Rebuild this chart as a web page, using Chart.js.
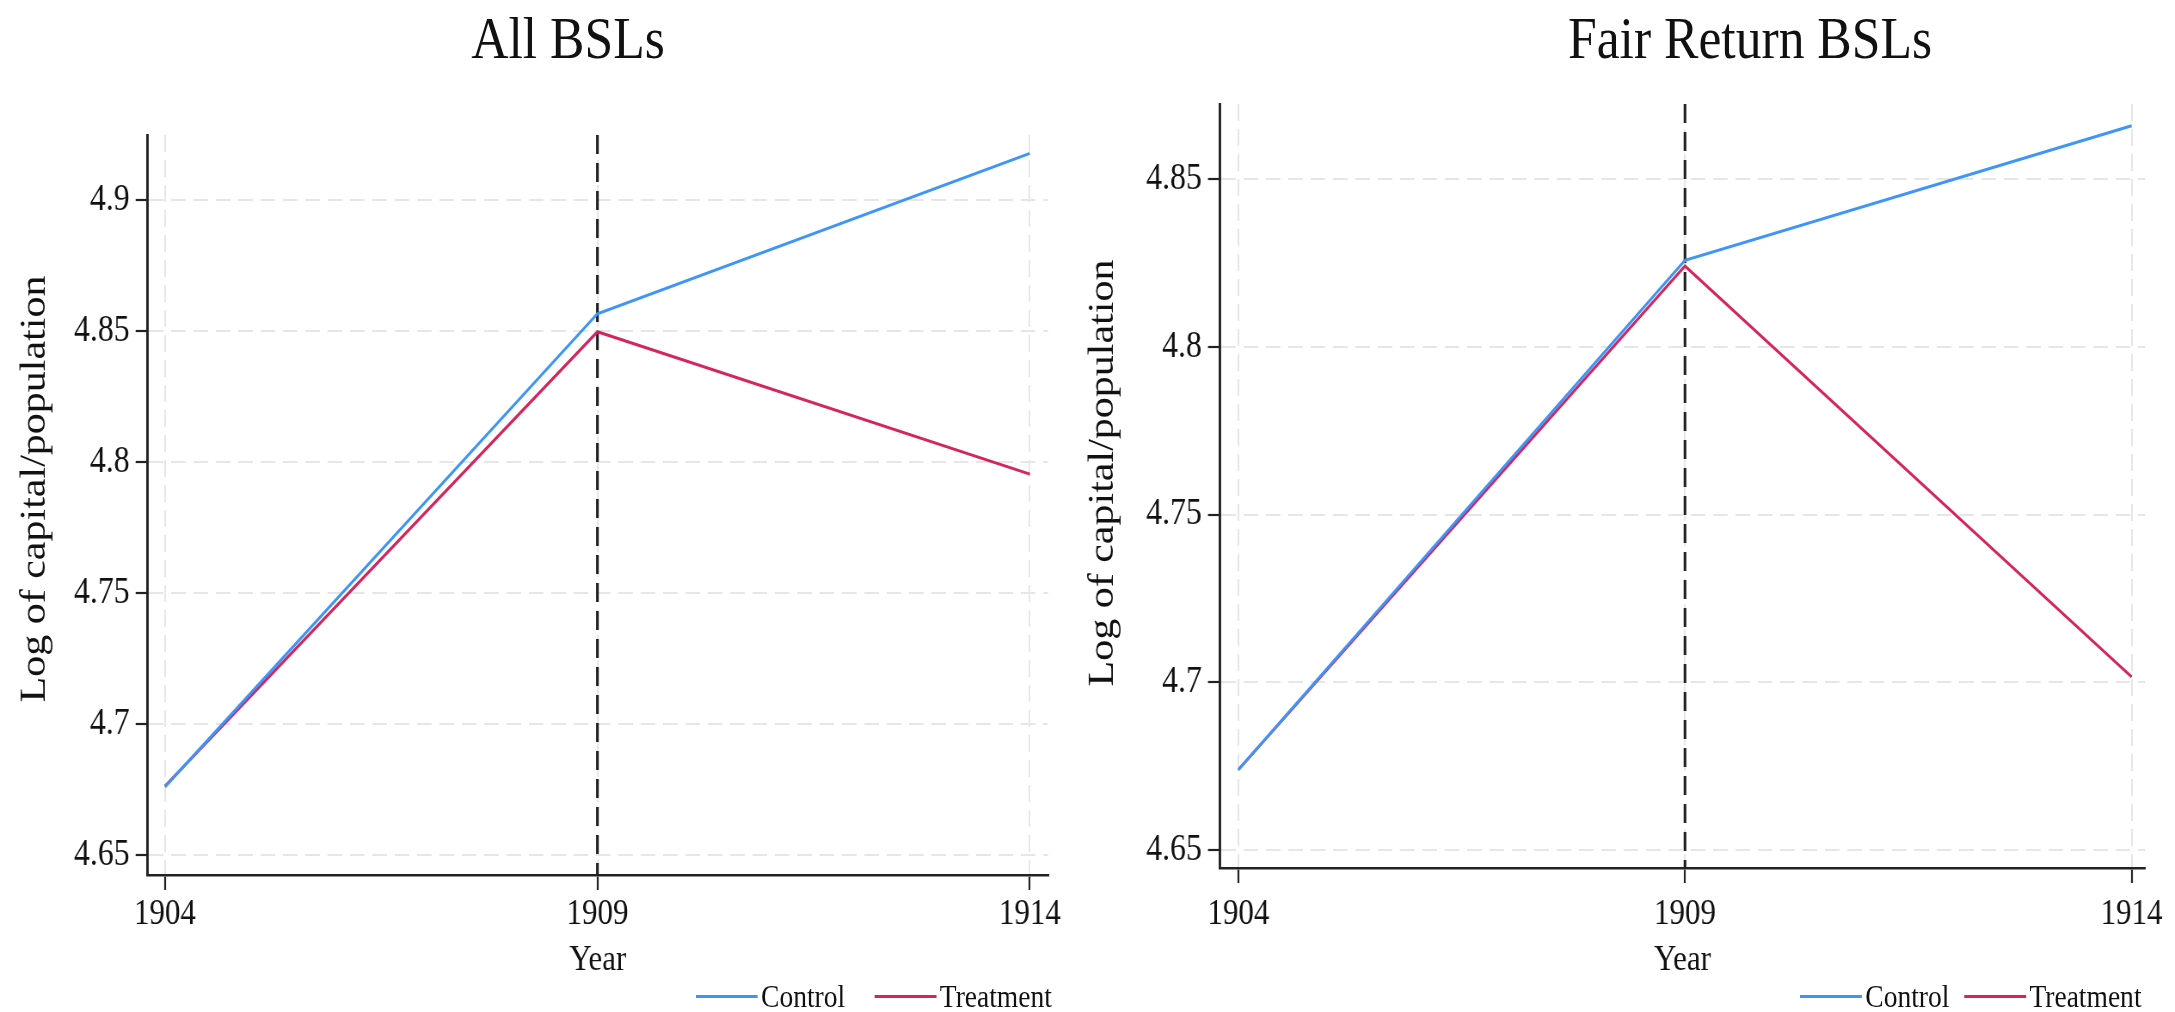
<!DOCTYPE html>
<html>
<head>
<meta charset="utf-8">
<script src="https://cdn.jsdelivr.net/npm/chart.js@4/dist/chart.umd.min.js"></script>
<style>
  html, body { margin: 0; padding: 0; background: #fff; overflow: hidden; width: 2175px; height: 1012px; }
  /* the figure is laid out on a wider stage and squeezed horizontally */
  #stage { position: absolute; left: 0; top: 0; width: 2529px; height: 1012px;
           transform: scaleX(0.86); transform-origin: 0 0;
           font-family: 'Liberation Serif', 'DejaVu Serif', serif; color: #111; }
  canvas.panel { position: absolute; top: 0; }
  .title { position: absolute; top: 8px; font-size: 60px; line-height: 60px; white-space: nowrap;
           transform: translateX(-50%); }
  .legend { position: absolute; top: 978px; height: 36px; display: flex; align-items: center;
            font-size: 32px; line-height: 36px; white-space: nowrap; }
  .legend .swatch { display: inline-block; width: 72px; height: 3px; margin-right: 4px; }
</style>
</head>
<body>
<div id="stage">
  <canvas id="allPanel" class="panel"></canvas>
  <canvas id="fairPanel" class="panel"></canvas>
  <div id="allTitle" class="title"></div>
  <div id="fairTitle" class="title"></div>
  <div id="allLegend" class="legend"></div>
  <div id="fairLegend" class="legend"></div>
</div>
<script>
// ---- data ----
const YEARS = [1904, 1909, 1914];
const SERIES_NAMES = ['Control', 'Treatment'];
const SERIES_COLORS = ['#3d95f7', '#d5245e'];

const ALL_CONTROL = [4.676, 4.8566, 4.9178];
const ALL_TREATMENT = [4.6763, 4.8497, 4.7954];
const FAIR_CONTROL = [4.6739, 4.8258, 4.8659];
const FAIR_TREATMENT = [4.6739, 4.8241, 4.7016];

const ALL_Y_TICKS = [4.65, 4.7, 4.75, 4.8, 4.85, 4.9];
const FAIR_Y_TICKS = [4.65, 4.7, 4.75, 4.8, 4.85];
const X_TICKS = [1904, 1909, 1914];
const POLICY_YEAR = 1909;

const PANEL_TITLES = ['All BSLs', 'Fair Return BSLs'];
const X_TITLE = 'Year';
const Y_TITLE = 'Log of capital/population';

// ---- drawing ----
const FONT = "'Liberation Serif', 'DejaVu Serif', serif";
const INK = '#111';
const AXIS = '#222';
const H = 1012;

// dashed vertical marker at the policy year
const policyLine = {
  id: 'policyLine',
  beforeDatasetsDraw(chart, args, opts) {
    const { ctx, chartArea, scales: { x } } = chart;
    const px = x.getPixelForValue(opts.year);
    ctx.save();
    ctx.strokeStyle = opts.color;
    ctx.lineWidth = opts.width;
    ctx.setLineDash(opts.dash);
    ctx.beginPath();
    ctx.moveTo(px, chartArea.top);
    ctx.lineTo(px, chartArea.bottom);
    ctx.stroke();
    ctx.restore();
  }
};

// rotated y-axis caption, centred at a given height
const yCaption = {
  id: 'yCaption',
  afterDraw(chart, args, opts) {
    const { ctx } = chart;
    ctx.save();
    ctx.translate(opts.x, opts.y);
    ctx.rotate(-Math.PI / 2);
    ctx.fillStyle = INK;
    ctx.font = `${opts.size}px ${FONT}`;
    ctx.textAlign = 'center';
    ctx.textBaseline = 'middle';
    ctx.fillText(opts.text, 0, 0);
    ctx.restore();
  }
};

function makePanel(id, p) {
  const canvas = document.getElementById(id);
  canvas.width = p.width;
  canvas.height = H;
  canvas.style.left = p.left + 'px';
  canvas.style.width = p.width + 'px';
  canvas.style.height = H + 'px';

  const datasets = p.series.map((vals, i) => ({
    label: SERIES_NAMES[i],
    data: YEARS.map((yr, j) => ({ x: yr, y: vals[j] })),
    borderColor: SERIES_COLORS[i],
    backgroundColor: SERIES_COLORS[i],
    borderWidth: 3,
    pointRadius: 0,
    tension: 0,
    fill: false
  }));

  return new Chart(canvas, {
    type: 'line',
    data: { datasets },
    plugins: [policyLine, yCaption],
    options: {
      responsive: false,
      animation: false,
      devicePixelRatio: 1,
      layout: { padding: { left: 0, top: p.caTop, right: p.padRight, bottom: 0 } },
      plugins: {
        legend: { display: false },
        tooltip: { enabled: false },
        title: { display: false },
        policyLine: { year: POLICY_YEAR, color: '#1f1f1f', width: 3.1, dash: [19, 9] },
        yCaption: { text: Y_TITLE, size: 42, x: p.yTitleX, y: p.yTitleY }
      },
      scales: {
        x: {
          type: 'linear',
          min: p.xMin, max: p.xMax,
          afterBuildTicks: s => { s.ticks = X_TICKS.map(v => ({ value: v })); },
          afterFit: s => { s.height = H - p.caBottom; },
          ticks: { color: INK, font: { family: FONT, size: 36 }, padding: p.xLabelPad,
                   maxRotation: 0, autoSkip: false, callback: v => String(v) },
          grid: { color: '#e6e6e6', lineWidth: 2, tickColor: AXIS, tickLength: 15, tickWidth: 2.2 },
          border: { display: true, color: AXIS, width: 2.6, dash: [17, 8] },
          title: { display: true, text: X_TITLE, color: INK, font: { family: FONT, size: 36 },
                   padding: { top: 0, bottom: 29.4 } }
        },
        y: {
          type: 'linear',
          min: p.yMin, max: p.yMax,
          afterBuildTicks: s => { s.ticks = p.yTicks.map(v => ({ value: v })); },
          afterFit: s => { s.width = p.caLeft; },
          ticks: { color: INK, font: { family: FONT, size: 37 }, padding: 7,
                   callback: v => String(+v.toFixed(2)) },
          grid: { color: '#e6e6e6', lineWidth: 2, tickColor: AXIS, tickLength: 14, tickWidth: 2.2 },
          border: { display: true, color: AXIS, width: 2.9, dash: [17, 9] },
          title: { display: false }
        }
      }
    }
  });
}

makePanel('allPanel', {
  left: 0, width: 1250,
  caLeft: 171.7, caTop: 135, caBottom: 875, padRight: 31.4,
  xMin: 1903.8, xMax: 1914.21,
  yMin: 4.6424, yMax: 4.9248, yTicks: ALL_Y_TICKS,
  xLabelPad: 3.4, yTitleX: 40.7, yTitleY: 489,
  series: [ALL_CONTROL, ALL_TREATMENT]
});

makePanel('fairPanel', {
  left: 1250, width: 1279,
  caLeft: 168.6, caTop: 104, caBottom: 868, padRight: 34.8,
  xMin: 1903.795, xMax: 1914.15,
  yMin: 4.6446, yMax: 4.8724, yTicks: FAIR_Y_TICKS,
  xLabelPad: 10.4, yTitleX: 32.6, yTitleY: 473,
  series: [FAIR_CONTROL, FAIR_TREATMENT]
});

// panel titles
function placeTitle(id, text, centerX) {
  const el = document.getElementById(id);
  el.textContent = text;
  el.style.left = centerX + 'px';
}
placeTitle('allTitle', PANEL_TITLES[0], 660.5);
placeTitle('fairTitle', PANEL_TITLES[1], 2034.9);

// legends below each panel
function buildLegend(id, left, itemGap) {
  const el = document.getElementById(id);
  el.style.left = left + 'px';
  SERIES_NAMES.forEach((name, i) => {
    const sw = document.createElement('span');
    sw.className = 'swatch';
    sw.style.background = SERIES_COLORS[i];
    const tx = document.createElement('span');
    tx.textContent = name;
    if (i < SERIES_NAMES.length - 1) tx.style.marginRight = itemGap + 'px';
    el.appendChild(sw);
    el.appendChild(tx);
  });
}
buildLegend('allLegend', 809, 34);
buildLegend('fairLegend', 2093, 17);
</script>
</body>
</html>
